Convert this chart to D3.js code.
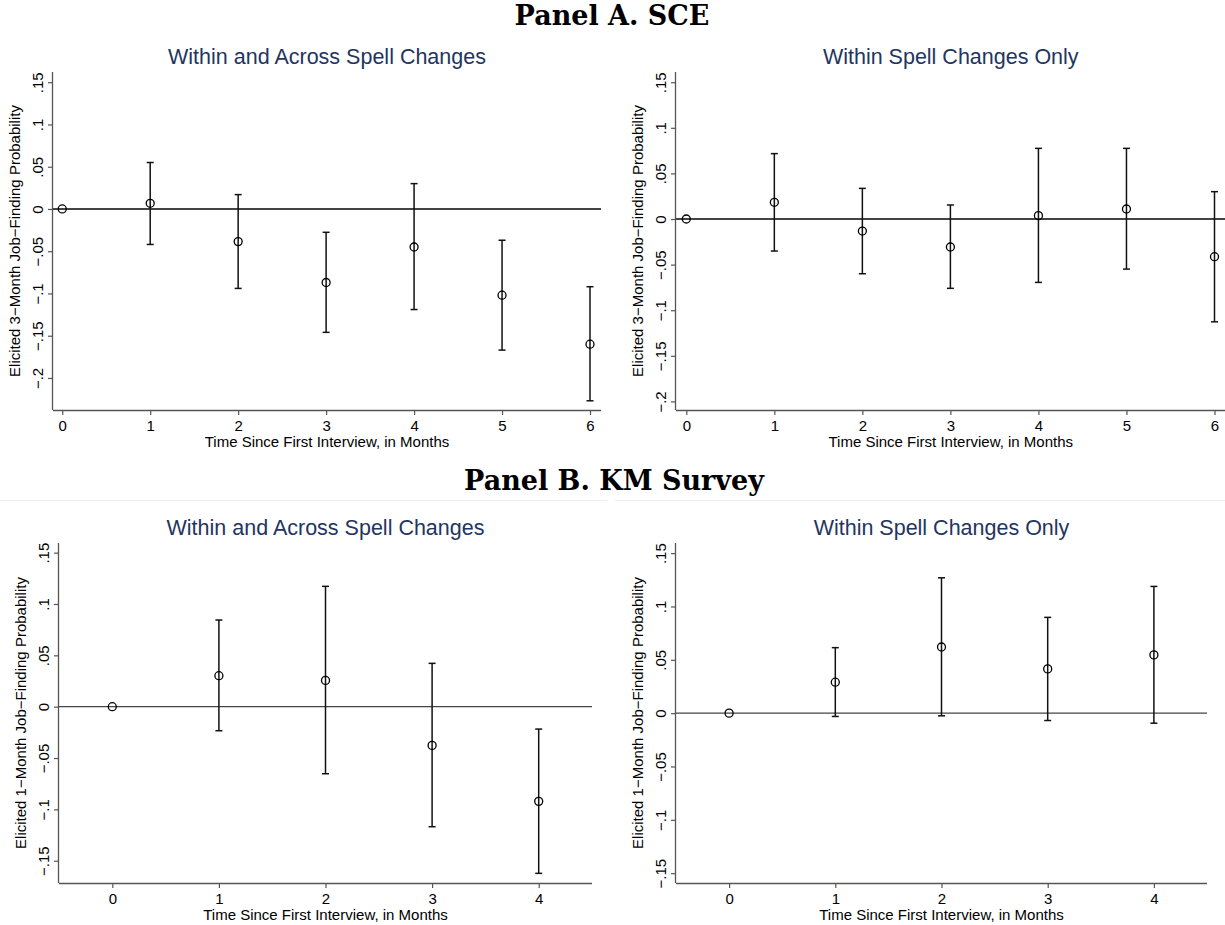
<!DOCTYPE html>
<html>
<head>
<meta charset="utf-8">
<script src="https://cdn.jsdelivr.net/npm/d3@7"></script>
<style>
  html, body { margin: 0; padding: 0; background: #fff; }
  svg { display: block; }
</style>
</head>
<body>
<svg id="chart" width="1225" height="925"></svg>
<script>
// ---------------- DATA ----------------
const monthsSCE = [0, 1, 2, 3, 4, 5, 6];
const monthsKM = [0, 1, 2, 3, 4];

// Panel A (SCE), within and across spell changes
const sceAllEst = [0, 0.0067, -0.0386, -0.087, -0.045, -0.102, -0.160];
const sceAllLo  = [null, -0.042, -0.094, -0.146, -0.119, -0.167, -0.227];
const sceAllHi  = [null, 0.055, 0.017, -0.0276, 0.030, -0.037, -0.092];

// Panel A (SCE), within spell changes only
const sceWithinEst = [0, 0.0183, -0.0132, -0.0307, 0.0037, 0.011, -0.0413];
const sceWithinLo  = [null, -0.0351, -0.060, -0.076, -0.0695, -0.0549, -0.1127];
const sceWithinHi  = [null, 0.0717, 0.0336, 0.0154, 0.0775, 0.0775, 0.030];

// Panel B (KM survey), within and across spell changes
const kmAllEst = [0, 0.0302, 0.0256, -0.0377, -0.0922];
const kmAllLo  = [null, -0.0234, -0.0653, -0.1169, -0.1623];
const kmAllHi  = [null, 0.0844, 0.1172, 0.0422, -0.0218];

// Panel B (KM survey), within spell changes only
const kmWithinEst = [0, 0.029, 0.062, 0.0415, 0.0546];
const kmWithinLo  = [null, -0.0031, -0.0025, -0.0069, -0.0094];
const kmWithinHi  = [null, 0.0614, 0.1269, 0.0898, 0.1188];

// Tick values
const yTicksSCE = [0.15, 0.1, 0.05, 0, -0.05, -0.1, -0.15, -0.2];
const yTicksKM = [0.15, 0.1, 0.05, 0, -0.05, -0.1, -0.15];

// Text
const panelTitles = ["Panel A. SCE", "Panel B. KM Survey"];
const subTitles = ["Within and Across Spell Changes", "Within Spell Changes Only"];
const xTitle = "Time Since First Interview, in Months";
const yTitleSCE = "Elicited 3\u2212Month Job\u2212Finding Probability";
const yTitleKM = "Elicited 1\u2212Month Job\u2212Finding Probability";

// ---------------- LAYOUT ----------------
const svg = d3.select("#chart");
const FONT = "'Liberation Sans', Arial, Helvetica, sans-serif";
const TITLE_COLOR = "#23355f";
const AXIS_COLOR = "#555";
const FS = 15;

const panels = [
  { x: monthsSCE, est: sceAllEst, lo: sceAllLo, hi: sceAllHi, ticks: yTicksSCE, xTicks: monthsSCE,
    sub: subTitles[0], yTitle: yTitleSCE,
    xDom: [-0.105, 6.125], xRng: [53, 601], yDom: [-0.2379, 0.1621], yRng: [410, 72], zeroW: 2 },
  { x: monthsSCE, est: sceWithinEst, lo: sceWithinLo, hi: sceWithinHi, ticks: yTicksSCE, xTicks: monthsSCE,
    sub: subTitles[1], yTitle: yTitleSCE,
    xDom: [-0.117, 6.125], xRng: [676, 1225.5], yDom: [-0.2094, 0.1612], yRng: [410, 72], zeroW: 2 },
  { x: monthsKM, est: kmAllEst, lo: kmAllLo, hi: kmAllHi, ticks: yTicksKM, xTicks: monthsKM,
    sub: subTitles[0], yTitle: yTitleKM,
    xDom: [-0.5, 4.5], xRng: [59, 592], yDom: [-0.1717, 0.1594], yRng: [883, 543], zeroW: 1.3 },
  { x: monthsKM, est: kmWithinEst, lo: kmWithinLo, hi: kmWithinHi, ticks: yTicksKM, xTicks: monthsKM,
    sub: subTitles[1], yTitle: yTitleKM,
    xDom: [-0.5, 4.5], xRng: [676, 1207], yDom: [-0.1592, 0.1595], yRng: [883, 543], zeroW: 1.3 }
];

function fmtTick(v) {
  if (Math.abs(v) < 1e-9) return "0";
  const s = String(+Math.abs(v).toFixed(3)).replace(/^0/, "");
  return (v < 0 ? "\u2212" : "") + s;
}

// Panel headers
svg.append("text").attr("x", 612).attr("y", 25).attr("text-anchor", "middle")
  .attr("font-family", "'DejaVu Serif', 'Liberation Serif', serif").attr("font-weight", "bold")
  .attr("font-size", 27).attr("fill", "#000").text(panelTitles[0]);
svg.append("text").attr("x", 614).attr("y", 490).attr("text-anchor", "middle")
  .attr("font-family", "'DejaVu Serif', 'Liberation Serif', serif").attr("font-weight", "bold")
  .attr("font-size", 27).attr("fill", "#000").text(panelTitles[1]);

// faint separators
svg.append("line").attr("x1", 0).attr("x2", 607).attr("y1", 500.5).attr("y2", 500.5)
  .attr("stroke", "#e6eef0").attr("stroke-width", 1);
svg.append("line").attr("x1", 615).attr("x2", 1225).attr("y1", 500.5).attr("y2", 500.5)
  .attr("stroke", "#e6eef0").attr("stroke-width", 1);

panels.forEach(p => {
  const xs = d3.scaleLinear().domain(p.xDom).range(p.xRng);
  const ys = d3.scaleLinear().domain(p.yDom).range(p.yRng);
  const g = svg.append("g");
  const left = p.xRng[0], right = p.xRng[1], bottom = p.yRng[0], top = p.yRng[1];
  const cx = (left + right) / 2;

  // sub title
  g.append("text").attr("x", cx).attr("y", top - 8).attr("text-anchor", "middle")
    .attr("font-family", FONT).attr("font-size", 21.5).attr("fill", TITLE_COLOR).text(p.sub);

  // zero line
  g.append("line").attr("x1", left).attr("x2", right)
    .attr("y1", ys(0)).attr("y2", ys(0))
    .attr("stroke", "#444").attr("stroke-width", p.zeroW);

  // x axis
  const xAxis = d3.axisBottom(xs).tickValues(p.xTicks).tickSize(5).tickPadding(5)
    .tickFormat(d3.format("d"));
  const xg = g.append("g").attr("transform", `translate(0,${bottom})`).call(xAxis);
  xg.select(".domain").attr("d", `M${left},0.5H${right}`).attr("stroke", AXIS_COLOR).attr("stroke-width", 1.3);
  xg.selectAll(".tick line").attr("stroke", AXIS_COLOR).attr("stroke-width", 1.2);
  xg.selectAll(".tick text").attr("font-family", FONT).attr("font-size", FS).attr("fill", "#000");

  // y axis
  const yAxis = d3.axisLeft(ys).tickValues(p.ticks).tickSize(5).tickFormat(fmtTick);
  const yg = g.append("g").attr("transform", `translate(${left},0)`).call(yAxis);
  yg.select(".domain").attr("d", `M-0.5,${top}V${bottom}`).attr("stroke", AXIS_COLOR).attr("stroke-width", 1.3);
  yg.selectAll(".tick line").attr("stroke", AXIS_COLOR).attr("stroke-width", 1.2);
  yg.selectAll(".tick text")
    .attr("font-family", FONT).attr("font-size", FS).attr("fill", "#000")
    .attr("x", null).attr("dy", null)
    .attr("text-anchor", "middle")
    .attr("transform", "translate(-10,0) rotate(-90)");

  // axis titles
  g.append("text").attr("x", cx).attr("y", bottom + 37).attr("text-anchor", "middle")
    .attr("font-family", FONT).attr("font-size", FS).attr("fill", "#000").text(xTitle);
  g.append("text").attr("transform", `translate(${left - 33},${(top + bottom) / 2}) rotate(-90)`)
    .attr("text-anchor", "middle")
    .attr("font-family", FONT).attr("font-size", FS).attr("fill", "#000").text(p.yTitle);

  // error bars
  const rows = p.x.map((m, i) => ({ m, est: p.est[i], lo: p.lo[i], hi: p.hi[i] }));
  const withCI = rows.filter(r => r.lo !== null && r.hi !== null);
  g.selectAll(".ci").data(withCI).enter().append("line")
    .attr("x1", r => xs(r.m)).attr("x2", r => xs(r.m))
    .attr("y1", r => ys(r.lo)).attr("y2", r => ys(r.hi))
    .attr("stroke", "#111").attr("stroke-width", 1.5);
  g.selectAll(".capHi").data(withCI).enter().append("line")
    .attr("x1", r => xs(r.m) - 3.5).attr("x2", r => xs(r.m) + 3.5)
    .attr("y1", r => ys(r.hi)).attr("y2", r => ys(r.hi))
    .attr("stroke", "#111").attr("stroke-width", 1.5);
  g.selectAll(".capLo").data(withCI).enter().append("line")
    .attr("x1", r => xs(r.m) - 3.5).attr("x2", r => xs(r.m) + 3.5)
    .attr("y1", r => ys(r.lo)).attr("y2", r => ys(r.lo))
    .attr("stroke", "#111").attr("stroke-width", 1.5);

  // points (hollow circles)
  g.selectAll(".pt").data(rows).enter().append("circle")
    .attr("cx", r => xs(r.m)).attr("cy", r => ys(r.est)).attr("r", 4)
    .attr("fill", "none").attr("stroke", "#000").attr("stroke-width", 1.3);
});
</script>
</body>
</html>
